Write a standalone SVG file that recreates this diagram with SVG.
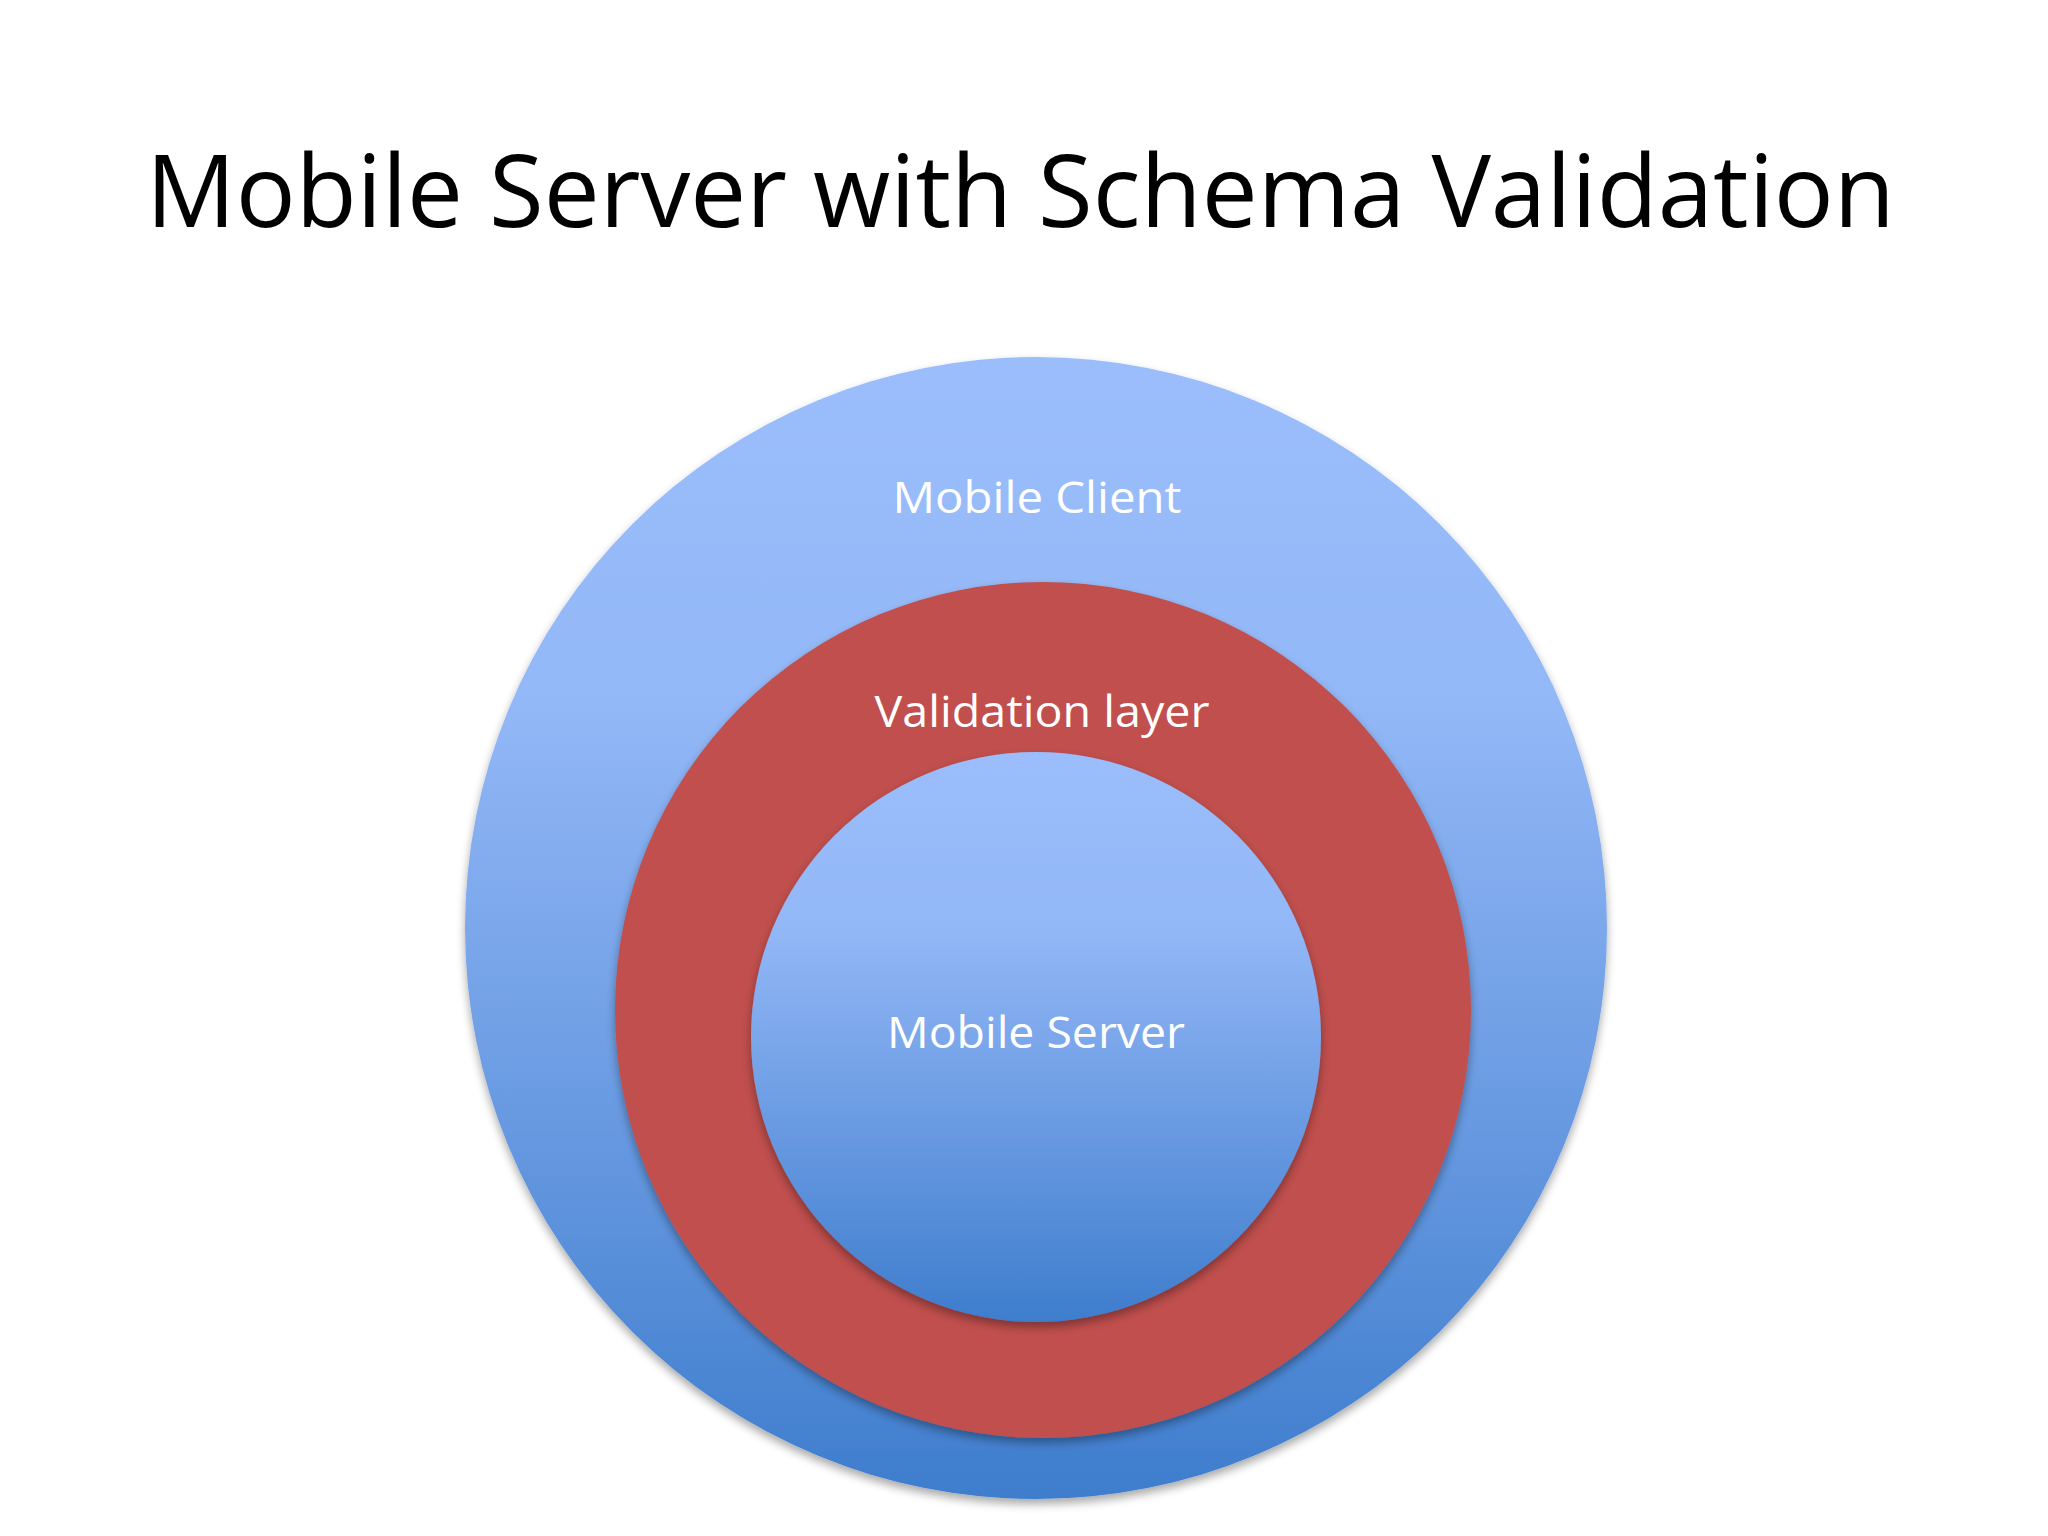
<svg xmlns="http://www.w3.org/2000/svg" width="2048" height="1536" viewBox="0 0 2048 1536">
  <defs>
    <linearGradient id="blueGrad" x1="0" y1="0" x2="0" y2="1">
      <stop offset="0" stop-color="#9bbdfb"/>
      <stop offset="0.3" stop-color="#93b8f7"/>
      <stop offset="0.65" stop-color="#6a9be2"/>
      <stop offset="1" stop-color="#3e7dcd"/>
    </linearGradient>
    <filter id="shadow" x="-10%" y="-10%" width="120%" height="125%">
      <feGaussianBlur in="SourceAlpha" stdDeviation="5"/>
      <feOffset dx="0" dy="5" result="b"/>
      <feComponentTransfer><feFuncA type="linear" slope="0.35"/></feComponentTransfer>
      <feMerge><feMergeNode/><feMergeNode in="SourceGraphic"/></feMerge>
    </filter>
    <style>
      .title { font-family: "Open Sans", "Liberation Sans", sans-serif; font-size: 100px; fill: #000000; }
      .label { font-family: "Open Sans", "Liberation Sans", sans-serif; font-size: 43px; fill: #ffffff; text-anchor: middle; }
    </style>
  </defs>
  <rect width="2048" height="1536" fill="#ffffff"/>
  <text class="title" x="146" y="227" textLength="1749" lengthAdjust="spacingAndGlyphs">Mobile Server with Schema Validation</text>
  <g id="mobile-client">
    <circle cx="1036" cy="928" r="571" fill="url(#blueGrad)" filter="url(#shadow)"/>
    <text class="label" x="1037" y="513" textLength="289" lengthAdjust="spacingAndGlyphs">Mobile Client</text>
  </g>
  <g id="validation-layer">
    <circle cx="1043" cy="1010" r="428" fill="#c0504d" filter="url(#shadow)"/>
    <text class="label" x="1042" y="727" textLength="335" lengthAdjust="spacingAndGlyphs">Validation layer</text>
  </g>
  <g id="mobile-server">
    <circle cx="1036" cy="1037" r="285" fill="url(#blueGrad)" filter="url(#shadow)"/>
    <text class="label" x="1036" y="1048" textLength="298" lengthAdjust="spacingAndGlyphs">Mobile Server</text>
  </g>
  <g id="connectors"/>
</svg>
